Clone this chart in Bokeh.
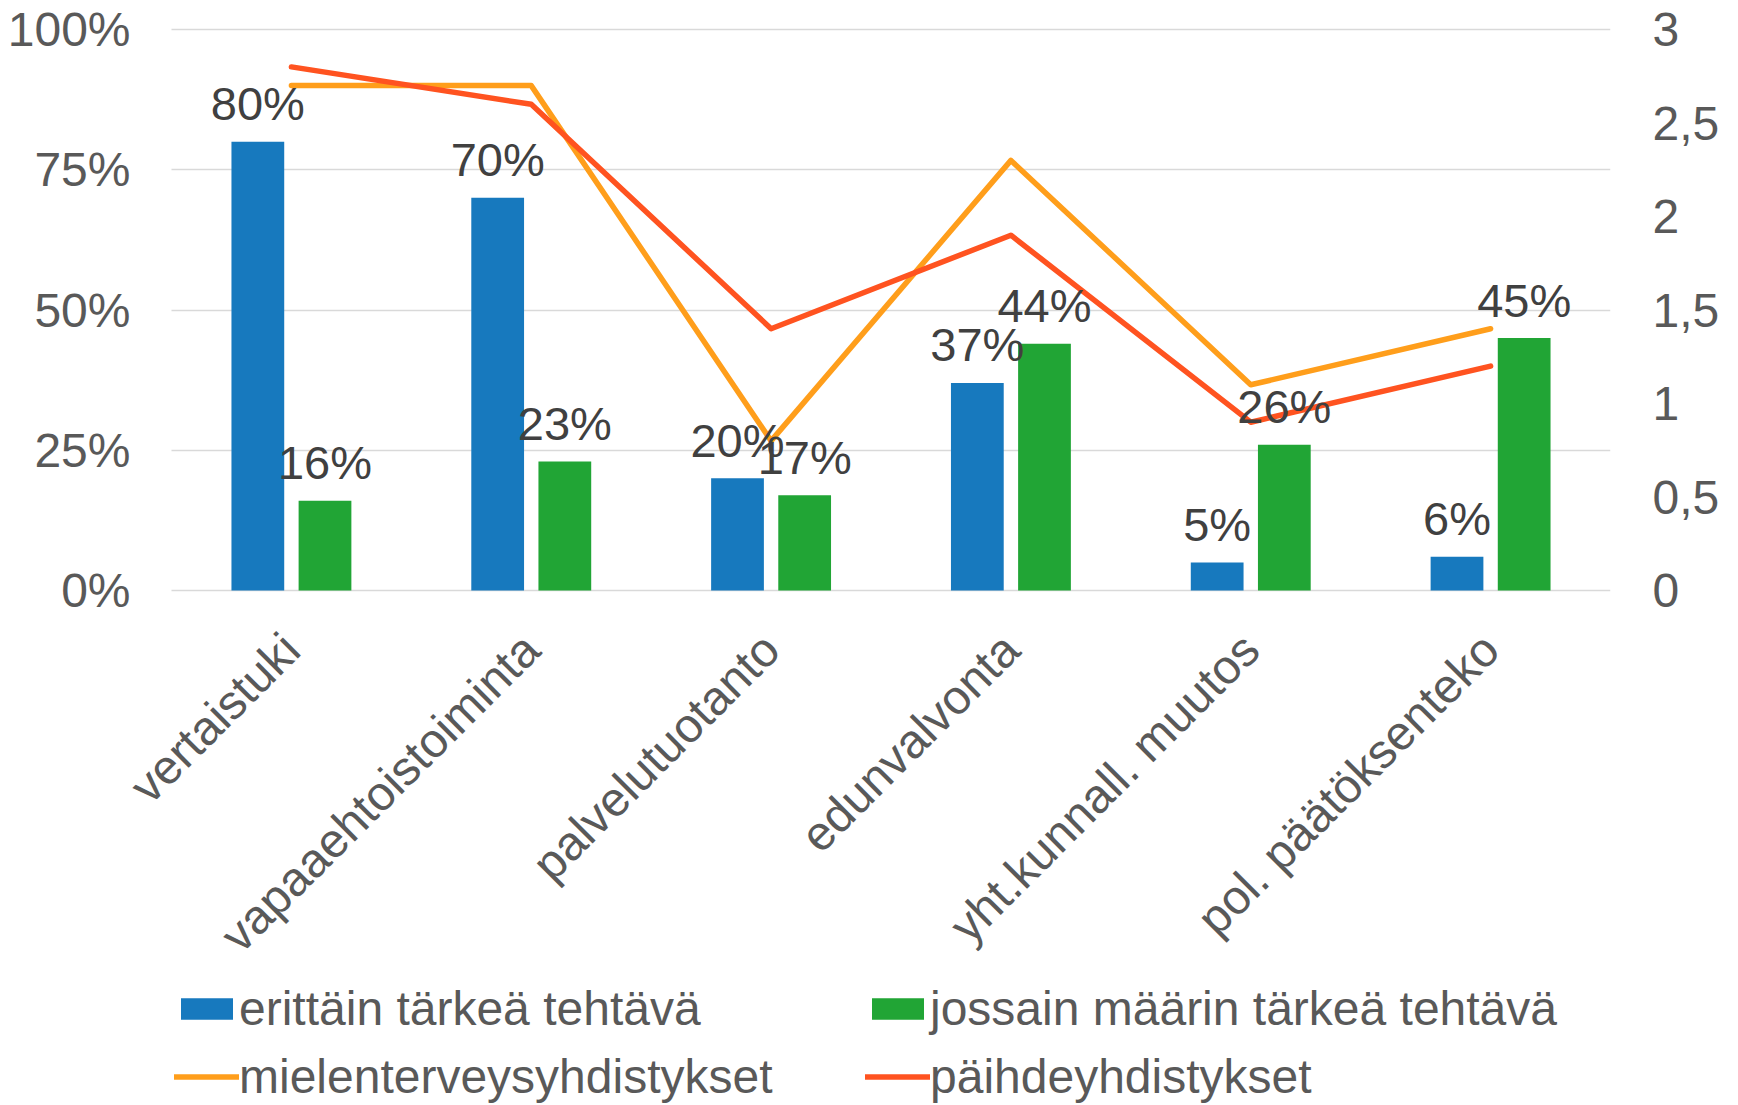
import math
from bokeh.plotting import figure
from bokeh.models import (ColumnDataSource, Range1d, LinearAxis, FixedTicker, Grid,
                          NumeralTickFormatter, Legend, LegendItem)
from bokeh.transform import dodge
from bokeh.core.properties import value
from bokeh.embed import file_html
from bokeh.resources import INLINE

categories = ["vertaistuki", "vapaaehtoistoiminta", "palvelutuotanto", "edunvalvonta",
              "yht.kunnall. muutos", "pol. päätöksenteko"]
erittain = [0.80, 0.70, 0.20, 0.37, 0.05, 0.06]
jossain = [0.16, 0.23, 0.17, 0.44, 0.26, 0.45]
mielenterveys = [2.7, 2.7, 0.8, 2.3, 1.1, 1.4]
paihde = [2.8, 2.6, 1.4, 1.9, 0.9, 1.2]
left_ticks = [0, 0.25, 0.5, 0.75, 1.0]
right_ticks = [0, 0.5, 1.0, 1.5, 2.0, 2.5, 3.0]
right_labels = ["0", "0,5", "1", "1,5", "2", "2,5", "3"]

FONT = "Liberation Sans"
BLUE = "#1779BE"
GREEN = "#21A535"
ORANGE = "#FF9E1B"
RED = "#FF5320"
AXIS_TXT = "#595959"
LBL_TXT = "#404040"
GRID = "#D9D9D9"

# layout constants (pixels)
N = len(categories)
PX_PER_UNIT = 561          # px per 100 %
PX_PER_CAT = 1439 / N      # px per category slot
EXTRA_LEFT = 44            # room on the left for the rotated first label
FRAME_W = 1439 + EXTRA_LEFT
FRAME_H = 1077
Y_MAX = 1 + 3 / PX_PER_UNIT
Y_MIN = Y_MAX - FRAME_H / PX_PER_UNIT
RIGHT_MAX = 3.0

xpos = [i + 0.5 for i in range(N)]
src = ColumnDataSource(dict(
    x=xpos, e=erittain, j=jossain, m=mielenterveys, p=paihde,
    el=[f"{round(v*100)}%" for v in erittain],
    jl=[f"{round(v*100)}%" for v in jossain],
))

p = figure(frame_width=FRAME_W, frame_height=FRAME_H,
           x_range=Range1d(-EXTRA_LEFT / PX_PER_CAT, N),
           y_range=Range1d(Y_MIN, Y_MAX), output_backend="svg", toolbar_location=None,
           min_border_left=127, min_border_right=119, min_border_top=26, min_border_bottom=0)
p.extra_y_ranges = {"right": Range1d(Y_MIN * RIGHT_MAX, Y_MAX * RIGHT_MAX)}
p.outline_line_color = None
p.background_fill_color = "white"
p.border_fill_color = "white"

p.xgrid.grid_line_color = None
p.yaxis.ticker = FixedTicker(ticks=left_ticks)
if "cross_bounds" in Grid.properties():
    p.ygrid.grid_line_color = GRID
    p.ygrid.grid_line_width = 1.5
    p.ygrid[0].cross_bounds = (0, N)
else:
    p.ygrid.grid_line_color = None
    p.segment(x0=0, x1=N, y0=left_ticks, y1=left_ticks, line_color=GRID, line_width=1.5)

off = 0.14
bw = 0.22
rb = p.vbar(x=dodge("x", -off), top="e", width=bw, source=src,
            fill_color=BLUE, line_color=None)
rg = p.vbar(x=dodge("x", off), top="j", width=bw, source=src,
            fill_color=GREEN, line_color=None)

rm = p.line(x="x", y="m", source=src, y_range_name="right", line_color=ORANGE,
            line_width=5.5, line_cap="round", line_join="round")
rp = p.line(x="x", y="p", source=src, y_range_name="right", line_color=RED,
            line_width=5.5, line_cap="round", line_join="round")

p.text(x=dodge("x", -off), y="e", text="el", source=src,
       text_font=value(FONT), text_font_size="47px", text_color=LBL_TXT,
       text_align="center", text_baseline="alphabetic", y_offset=-38)
p.text(x=dodge("x", off), y="j", text="jl", source=src,
       text_font=value(FONT), text_font_size="47px", text_color=LBL_TXT,
       text_align="center", text_baseline="alphabetic", y_offset=-38)

ya = p.yaxis[0]
ya.formatter = NumeralTickFormatter(format="0%")
ya.axis_line_color = None
ya.major_tick_line_color = None
ya.minor_tick_line_color = None
ya.major_label_text_font = FONT
ya.major_label_text_font_size = "48px"
ya.major_label_text_color = AXIS_TXT
ya.major_label_standoff = -9

ra = LinearAxis(y_range_name="right", ticker=FixedTicker(ticks=right_ticks),
                major_label_overrides={t: l for t, l in zip(right_ticks, right_labels)})
ra.axis_line_color = None
ra.major_tick_line_color = None
ra.minor_tick_line_color = None
ra.major_label_text_font = FONT
ra.major_label_text_font_size = "48px"
ra.major_label_text_color = AXIS_TXT
ra.major_label_standoff = 36
p.add_layout(ra, "right")

xa = p.xaxis[0]
xa.fixed_location = 0
xa.ticker = FixedTicker(ticks=xpos)
xa.major_label_overrides = {x: c for x, c in zip(xpos, categories)}
xa.axis_line_color = None
xa.major_tick_line_color = None
xa.minor_tick_line_color = None
xa.major_label_orientation = math.pi / 4
xa.major_label_text_font = FONT
xa.major_label_text_font_size = "48px"
xa.major_label_text_color = AXIS_TXT
xa.major_label_standoff = 45

legend = Legend(items=[
    LegendItem(label="erittäin tärkeä tehtävä", renderers=[rb]),
    LegendItem(label="jossain määrin tärkeä tehtävä", renderers=[rg]),
    LegendItem(label="mielenterveysyhdistykset", renderers=[rm]),
    LegendItem(label="päihdeyhdistykset", renderers=[rp]),
], orientation="horizontal", ncols=2, location=(EXTRA_LEFT + 3, -1))
legend.border_line_color = None
legend.background_fill_alpha = 0
legend.padding = 0
legend.margin = 0
legend.spacing = 13
legend.glyph_width = 65
legend.glyph_height = 27
legend.label_standoff = 0
legend.label_width = 613
legend.label_text_font = FONT
legend.label_text_font_size = "48px"
legend.label_text_color = AXIS_TXT
p.add_layout(legend, "center")

open("out.html", "w").write(file_html(p, INLINE))
